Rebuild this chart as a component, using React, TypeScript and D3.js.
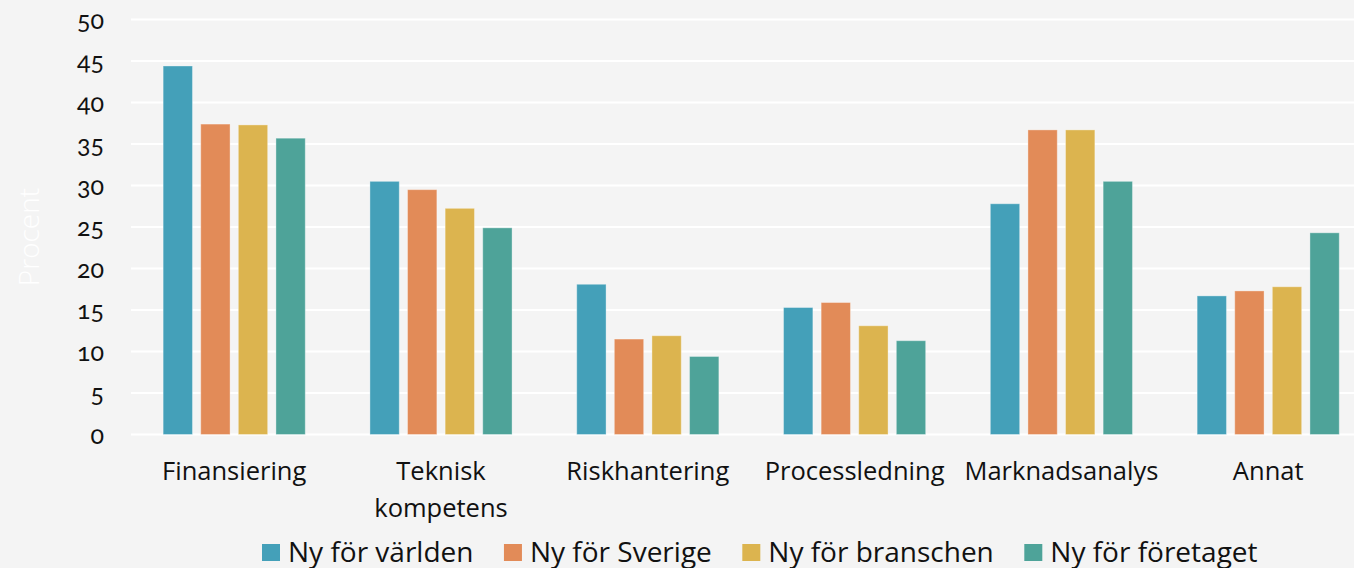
import React from "react";
import * as d3 from "d3";

const categories = [
  ["Finansiering"],
  ["Teknisk", "kompetens"],
  ["Riskhantering"],
  ["Processledning"],
  ["Marknadsanalys"],
  ["Annat"],
];
const seriesNames = ["Ny för världen", "Ny för Sverige", "Ny för branschen", "Ny för företaget"];
const seriesColors = ["#44a0b9", "#e28b58", "#dcb44f", "#4ea399"];
const nyForVarlden = [44.4, 30.5, 18.1, 15.3, 27.8, 16.7];
const nyForSverige = [37.4, 29.5, 11.5, 15.9, 36.7, 17.3];
const nyForBranschen = [37.3, 27.25, 11.9, 13.1, 36.7, 17.8];
const nyForForetaget = [35.7, 24.9, 9.4, 11.3, 30.5, 24.3];
const yTicks = [0, 5, 10, 15, 20, 25, 30, 35, 40, 45, 50];
const yTitle = "Procent";

const W = 1354;
const H = 568;

function measure(text: string, font: string): number {
  if (typeof document === "undefined") return text.length * 10;
  const c = document.createElement("canvas");
  const ctx = c.getContext("2d");
  if (!ctx) return text.length * 10;
  ctx.font = font;
  return ctx.measureText(text).width;
}

export default function App() {
  const values = [nyForVarlden, nyForSverige, nyForBranschen, nyForForetaget];
  const catKeys = categories.map((c) => c.join(" "));
  const x0 = d3.scaleBand<string>().domain(catKeys).range([130.8, 1371.6]).padding(0);
  const x1 = d3
    .scaleBand<string>()
    .domain(seriesNames)
    .range([-75.2, 75.2])
    .paddingInner(0.22)
    .paddingOuter(0.11);
  const y = d3.scaleLinear().domain([0, 50]).range([434.5, 19.5]);

  const legendFontSize = 28;
  const legendFont = `${legendFontSize}px "Open Sans"`;
  let lx = 262;
  const legendItems = seriesNames.map((name, i) => {
    const w = measure(name, legendFont);
    const item = { name, color: seriesColors[i], x: lx };
    lx += 18 + 8 + w + 30.5;
    return item;
  });

  return (
    <svg
      width={W}
      height={H}
      style={{ position: "absolute", left: 0, top: 0, display: "block" }}
    >
      <rect x={0} y={0} width={W} height={H} fill="#f4f4f4" />
      {yTicks.map((t) => (
        <g key={t}>
          <line x1={131} x2={W} y1={y(t)} y2={y(t)} stroke="#ffffff" strokeWidth={2} />
          <text
            x={104}
            y={y(t) + 9}
            textAnchor="end"
            fontFamily="Lato"
            fontSize={25}
            fill="#111"
            style={{ fontVariantNumeric: "oldstyle-nums" }}
          >
            {t}
          </text>
        </g>
      ))}
      <text
        transform={`translate(39,237) rotate(-90)`}
        textAnchor="middle"
        fontFamily="Open Sans"
        fontWeight={300}
        fontSize={28}
        fill="#ffffff"
      >
        {yTitle}
      </text>
      {catKeys.map((ck, ci) => (
        <g key={ck} transform={`translate(${(x0(ck) ?? 0) + x0.bandwidth() / 2},0)`}>
          {seriesNames.map((s, si) => {
            const v = values[si][ci];
            return (
              <rect
                key={s}
                x={x1(s)}
                y={y(v)}
                width={x1.bandwidth()}
                height={y(0) - y(v)}
                fill={seriesColors[si]}
                stroke="rgba(255,255,255,0.35)"
                strokeWidth={1}
              />
            );
          })}
          <text textAnchor="middle" fontFamily="Open Sans" fontSize={25.5} fill="#111">
            {categories[ci].map((line, li) => (
              <tspan key={li} x={0} y={480 + li * 37}>
                {line}
              </tspan>
            ))}
          </text>
        </g>
      ))}
      {legendItems.map((it) => (
        <g key={it.name}>
          <rect x={it.x} y={544} width={18} height={17} fill={it.color} />
          <text x={it.x + 26} y={561.5} fontFamily="Open Sans" fontSize={legendFontSize} fill="#111">
            {it.name}
          </text>
        </g>
      ))}
    </svg>
  );
}
